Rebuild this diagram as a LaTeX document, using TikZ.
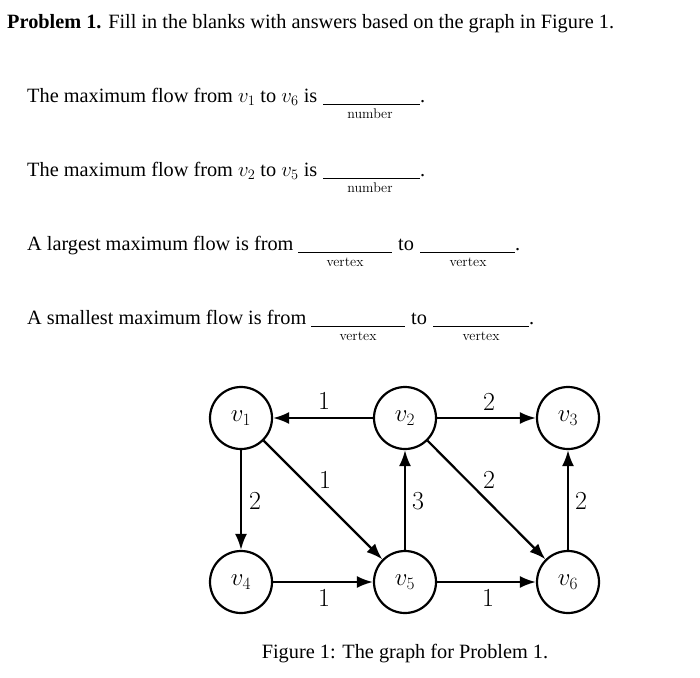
\documentclass[tikz,border=0pt]{standalone}
\usepackage{fontspec}
\setmainfont{Liberation Serif}
\newfontfamily\lmroman{Latin Modern Roman}
\usetikzlibrary{arrows.meta}
\tikzset{
  txt/.style={anchor=base west, inner sep=0pt, font=\fontsize{20.3}{24}\selectfont},
  hint/.style={anchor=center, inner sep=0pt, font=\lmroman\fontsize{14}{16}\selectfont},
  blank/.style={line width=0.9pt},
  vtx/.style={circle, draw, line width=2.2pt, minimum size=62pt, inner sep=0pt, font=\fontsize{27}{30}\selectfont},
  edge/.style={line width=2.2pt, -{Latex[length=16pt,width=12pt]}},
  wt/.style={inner sep=0pt, font=\lmroman\fontsize{26}{28}\selectfont}
}
\begin{document}
\begin{tikzpicture}[x=1pt,y=-1pt]
\useasboundingbox (0,0) rectangle (700,677);
% heading
\node[txt] (title) at (7,29) {\textbf{Problem 1.} Fill in the blanks with answers based on the graph in Figure 1.};
% line 1
\node[txt] (q1) at (27,102) {The maximum flow from $v_1$ to $v_6$ is};
\draw[blank] (323,104) -- (420,104);
\node[txt] (p1) at (420,102) {.};
\node[hint] (h1) at (370,114) {number};
% line 2
\node[txt] (q2) at (27,176) {The maximum flow from $v_2$ to $v_5$ is};
\draw[blank] (323,178) -- (420,178);
\node[txt] (p2) at (420,176) {.};
\node[hint] (h2) at (370,188) {number};
% line 3
\node[txt] (q3) at (27,250) {A largest maximum flow is from};
\draw[blank] (298,252) -- (392,252);
\node[txt] (t3) at (398,250) {to};
\draw[blank] (420,252) -- (515,252);
\node[txt] (p3) at (515,250) {.};
\node[hint] (h3a) at (345,262) {vertex};
\node[hint] (h3b) at (468,262) {vertex};
% line 4
\node[txt] (q4) at (27,324) {A smallest maximum flow is from};
\draw[blank] (311,326) -- (405,326);
\node[txt] (t4) at (411,324) {to};
\draw[blank] (433,326) -- (529,326);
\node[txt] (p4) at (529,324) {.};
\node[hint] (h4a) at (358,336) {vertex};
\node[hint] (h4b) at (481,336) {vertex};
% graph
\node[vtx] (v1) at (241,418) {$v_1$};
\node[vtx] (v2) at (405,418) {$v_2$};
\node[vtx] (v3) at (568,418) {$v_3$};
\node[vtx] (v4) at (241,582) {$v_4$};
\node[vtx] (v5) at (405,582) {$v_5$};
\node[vtx] (v6) at (568,582) {$v_6$};
\draw[edge] (v2) -- (v1);
\draw[edge] (v2) -- (v3);
\draw[edge] (v1) -- (v4);
\draw[edge] (v1) -- (v5);
\draw[edge] (v5) -- (v2);
\draw[edge] (v2) -- (v6);
\draw[edge] (v6) -- (v3);
\draw[edge] (v4) -- (v5);
\draw[edge] (v5) -- (v6);
\node[wt] (w21) at (324,401) {1};
\node[wt] (w23) at (489,402) {2};
\node[wt] (w14) at (255,501) {2};
\node[wt] (w15) at (325,480) {1};
\node[wt] (w52) at (418,501) {3};
\node[wt] (w26) at (489,480) {2};
\node[wt] (w63) at (581,501) {2};
\node[wt] (w45) at (324,598) {1};
\node[wt] (w56) at (488,598) {1};
% caption
\node[txt, anchor=base] (cap) at (405,658) {Figure 1: The graph for Problem 1.};
\end{tikzpicture}
\end{document}
